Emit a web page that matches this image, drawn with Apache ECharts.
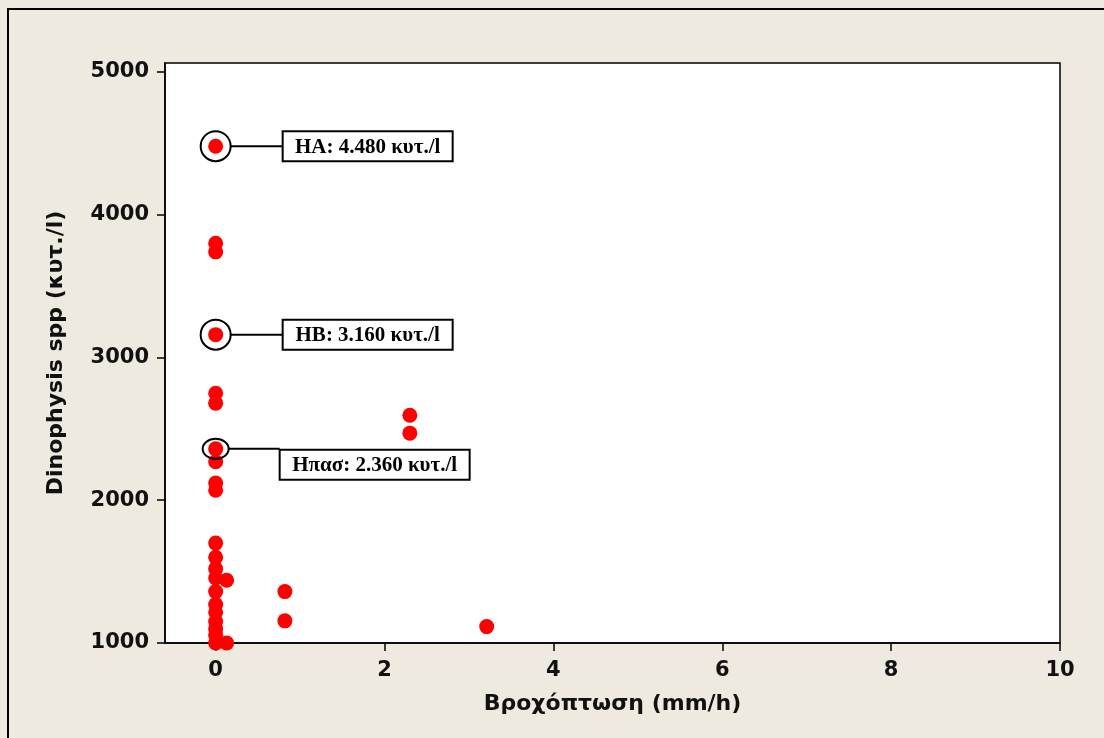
<!DOCTYPE html>
<html>
<head>
<meta charset="utf-8">
<script src="https://cdn.jsdelivr.net/npm/echarts@6/dist/echarts.min.js"></script>
<style>
html,body{margin:0;padding:0;background:#EEEAE0;}
#chart{width:1104px;height:738px;}
</style>
</head>
<body>
<div id="chart"></div>
<script>
// Data
const rainfall = [0,0,0,0,0,0,0,0,0,0,0,0,0,0,0,0,0,0,0,0,0, 0.13,0.13, 0.82,0.82, 2.3,2.3, 3.21];
const dinophysis = [4480,3800,3740,3160,2750,2680,2360,2270,2120,2070,1700,1600,1520,1455,1360,1270,1215,1150,1100,1055,1000, 1440,1000, 1360,1155, 2595,2470, 1115];
const xTicks = [0,2,4,6,8,10];
const yTicks = [1000,2000,3000,4000,5000];
const annX = [0,0,0];
const annY = [4480,3160,2360];
const annText = ['HA: 4.480 κυτ./l','HB: 3.160 κυτ./l','Ηπασ: 2.360 κυτ./l'];
const annKind = ['circle','circle','ellipse'];

const points = rainfall.map((x,i)=>[x,dinophysis[i]]);
const annData = annX.map((x,i)=>[x,annY[i],i]);

const chart = echarts.init(document.getElementById('chart'));
const labelFont = {fontFamily:'DejaVu Sans',fontWeight:'bold',fontSize:21,color:'#111'};

chart.setOption({
  backgroundColor:'#EEEAE0',
  animation:false,
  graphic:[{type:'rect',shape:{x:8,y:9,width:1200,height:800},style:{fill:'none',stroke:'#000',lineWidth:2},z:-1}],
  grid:{left:165,right:44,top:63,bottom:95,show:true,backgroundColor:'#fff',borderColor:'#000',borderWidth:1.5},
  xAxis:{
    type:'value',min:-0.6,max:10,
    name:'Βροχόπτωση (mm/h)',nameLocation:'middle',nameGap:50,
    nameTextStyle:Object.assign({},labelFont,{fontSize:22}),
    axisLine:{show:true,onZero:false,lineStyle:{color:'#000',width:1.5}},
    axisTick:{show:true,length:8,customValues:xTicks,lineStyle:{color:'#000',width:1.5}},
    axisLabel:Object.assign({customValues:xTicks,margin:17,formatter:v=>String(v)},labelFont),
    splitLine:{show:false}
  },
  yAxis:{
    type:'value',min:1000,max:5063,
    name:'Dinophysis spp (κυτ./l)',nameLocation:'middle',nameGap:98,
    nameTextStyle:Object.assign({},labelFont,{fontSize:22}),
    axisLine:{show:true,onZero:false,lineStyle:{color:'#000',width:1.5}},
    axisTick:{show:true,length:8,customValues:yTicks,lineStyle:{color:'#000',width:1.5}},
    axisLabel:Object.assign({customValues:yTicks,margin:16,formatter:v=>String(v)},labelFont),
    splitLine:{show:false}
  },
  series:[
    {type:'scatter',data:points,symbol:'circle',symbolSize:15,itemStyle:{color:'#FF0000',opacity:1},z:3},
    {type:'custom',data:annData,z:5,
     renderItem:function(params,api){
       const i = api.value(2);
       const p = api.coord([api.value(0),api.value(1)]);
       const cx=p[0], cy=p[1];
       const children=[];
       const font='bold 21px "Liberation Serif", "Times New Roman", serif';
       if(annKind[i]==='circle'){
         children.push({type:'circle',shape:{cx:cx,cy:cy,r:15},style:{fill:'none',stroke:'#000',lineWidth:2}});
         children.push({type:'line',shape:{x1:cx+15,y1:cy,x2:cx+67,y2:cy},style:{stroke:'#000',lineWidth:2}});
         children.push({type:'rect',shape:{x:cx+67,y:cy-15,width:170,height:30},style:{fill:'#fff',stroke:'#000',lineWidth:2}});
         children.push({type:'text',style:{x:cx+67+85,y:cy+1,text:annText[i],font:font,fill:'#000',align:'center',verticalAlign:'middle'}});
       } else {
         children.push({type:'ellipse',shape:{cx:cx,cy:cy,rx:13,ry:10},style:{fill:'none',stroke:'#000',lineWidth:2}});
         children.push({type:'line',shape:{x1:cx+13,y1:cy,x2:cx+64,y2:cy},style:{stroke:'#000',lineWidth:2}});
         children.push({type:'rect',shape:{x:cx+64,y:cy+1,width:190,height:30},style:{fill:'#fff',stroke:'#000',lineWidth:2}});
         children.push({type:'text',style:{x:cx+64+95,y:cy+17,text:annText[i],font:font,fill:'#000',align:'center',verticalAlign:'middle'}});
       }
       return {type:'group',children:children};
     }}
  ]
});
</script>
</body>
</html>
